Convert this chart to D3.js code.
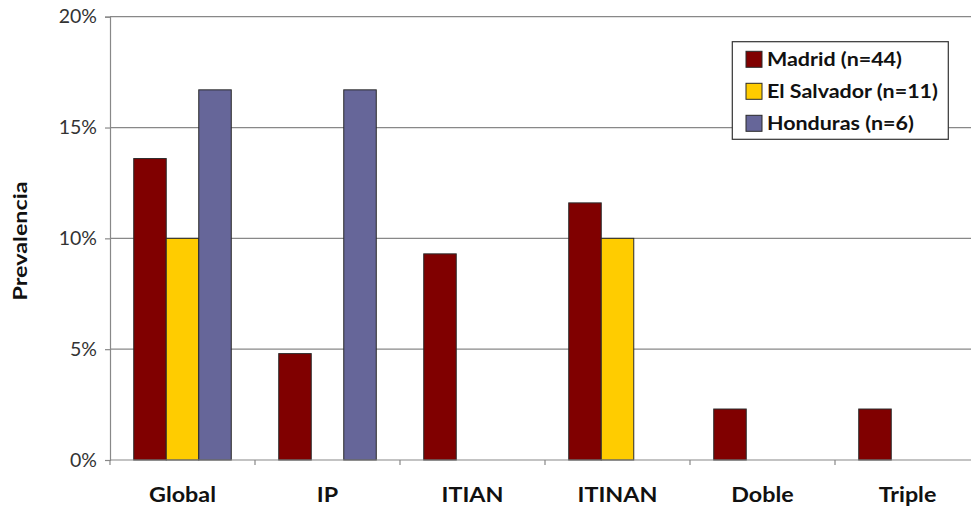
<!DOCTYPE html>
<html>
<head>
<meta charset="utf-8">
<script src="https://cdn.jsdelivr.net/npm/d3@7"></script>
<style>
  html, body { margin: 0; padding: 0; background: #fff; }
  svg { display: block; }
</style>
</head>
<body>
<div id="chart"></div>
<script>
// Prevalence by infection type and origin
const categories = ["Global", "IP", "ITIAN", "ITINAN", "Doble", "Triple"];
const seriesNames = ["Madrid (n=44)", "El Salvador (n=11)", "Honduras (n=6)"];
const madrid = [13.6, 4.8, 9.3, 11.6, 2.3, 2.3];
const elSalvador = [10.0, null, null, 10.0, null, null];
const honduras = [16.7, 16.7, null, null, null, null];
const yTicks = [0, 5, 10, 15, 20];
const colors = ["#800000", "#FFCC00", "#666699"];

const seriesValues = [madrid, elSalvador, honduras];

const W = 971, H = 506;
const plotLeft = 110, plotRight = 980, plotTop = 16.7, plotBottom = 460;
const FONT = "Lato, sans-serif";

const svg = d3.select("#chart").append("svg")
  .attr("width", W).attr("height", H);

const x0 = d3.scaleBand().domain(categories).range([plotLeft, plotRight]).padding(0);
const x1 = d3.scaleBand().domain(seriesNames).range([0, x0.bandwidth()])
  .paddingInner(0).paddingOuter(0.73);
const y = d3.scaleLinear().domain([0, 20]).range([plotBottom, plotTop]);

// horizontal gridlines
svg.append("g").selectAll("line").data(yTicks.filter(d => d > 0)).join("line")
  .attr("x1", plotLeft).attr("x2", plotRight)
  .attr("y1", d => y(d)).attr("y2", d => y(d))
  .attr("stroke", "#888").attr("stroke-width", 1.2);

// y axis
const yAxis = d3.axisLeft(y).tickValues(yTicks).tickFormat(d => d + "%").tickSize(5).tickPadding(8);
const gy = svg.append("g").attr("transform", `translate(${plotLeft},0)`).call(yAxis);
gy.select(".domain").attr("stroke", "#888").attr("stroke-width", 1.2);
gy.selectAll(".tick line").attr("stroke", "#888").attr("stroke-width", 1.2);
gy.selectAll(".tick text")
  .attr("font-family", FONT).attr("font-size", 19.5)
  .attr("fill", "#333");

// bars
const groups = svg.append("g").selectAll("g").data(categories).join("g")
  .attr("transform", d => `translate(${x0(d)},0)`);
groups.selectAll("rect")
  .data((c, i) => seriesNames.map((s, k) => ({ s, k, v: seriesValues[k][i] })).filter(d => d.v != null))
  .join("rect")
  .attr("x", d => x1(d.s))
  .attr("width", x1.bandwidth())
  .attr("y", d => y(d.v))
  .attr("height", d => y(0) - y(d.v))
  .attr("fill", d => colors[d.k])
  .attr("stroke", "#2a2a2a").attr("stroke-width", 1);

// x axis
const xTickPositions = d3.range(categories.length + 1).map(i => plotLeft + i * x0.step());
const gx = svg.append("g");
gx.append("line").attr("x1", plotLeft).attr("x2", plotRight).attr("y1", plotBottom).attr("y2", plotBottom)
  .attr("stroke", "#888").attr("stroke-width", 1.2);
gx.selectAll("line.tk").data(xTickPositions).join("line").attr("class", "tk")
  .attr("x1", d => d).attr("x2", d => d).attr("y1", plotBottom).attr("y2", plotBottom + 5)
  .attr("stroke", "#888").attr("stroke-width", 1.2);
gx.selectAll("text").data(categories).join("text")
  .attr("transform", d => `translate(${x0(d) + x0.bandwidth() / 2},502) scale(1.11,1)`)
  .attr("text-anchor", "middle")
  .attr("font-family", FONT).attr("font-weight", "bold").attr("font-size", 21)
  .attr("fill", "#111")
  .text(d => d);

// y axis title
svg.append("text")
  .attr("transform", `translate(26.5,241) rotate(-90)`)
  .attr("text-anchor", "middle")
  .attr("font-family", FONT).attr("font-weight", "bold").attr("font-size", 18.5)
  .attr("textLength", 119).attr("lengthAdjust", "spacingAndGlyphs")
  .attr("fill", "#111")
  .text("Prevalencia");

// legend
const lg = svg.append("g");
lg.append("rect").attr("x", 732.3).attr("y", 41.7).attr("width", 216).attr("height", 97.6)
  .attr("fill", "#fff").attr("stroke", "#333").attr("stroke-width", 1.2);
const items = lg.selectAll("g").data(seriesNames).join("g")
  .attr("transform", (d, i) => `translate(746,${59.3 + i * 32})`);
items.append("rect").attr("x", 0).attr("y", -8).attr("width", 16).attr("height", 16)
  .attr("fill", (d, i) => colors[i]).attr("stroke", "#2a2a2a").attr("stroke-width", 1);
items.append("text")
  .attr("transform", "translate(21,6.8) scale(1.16,1)")
  .attr("font-family", FONT).attr("font-weight", "bold").attr("font-size", 18.5)
  .attr("fill", "#111")
  .text(d => d);
</script>
</body>
</html>
